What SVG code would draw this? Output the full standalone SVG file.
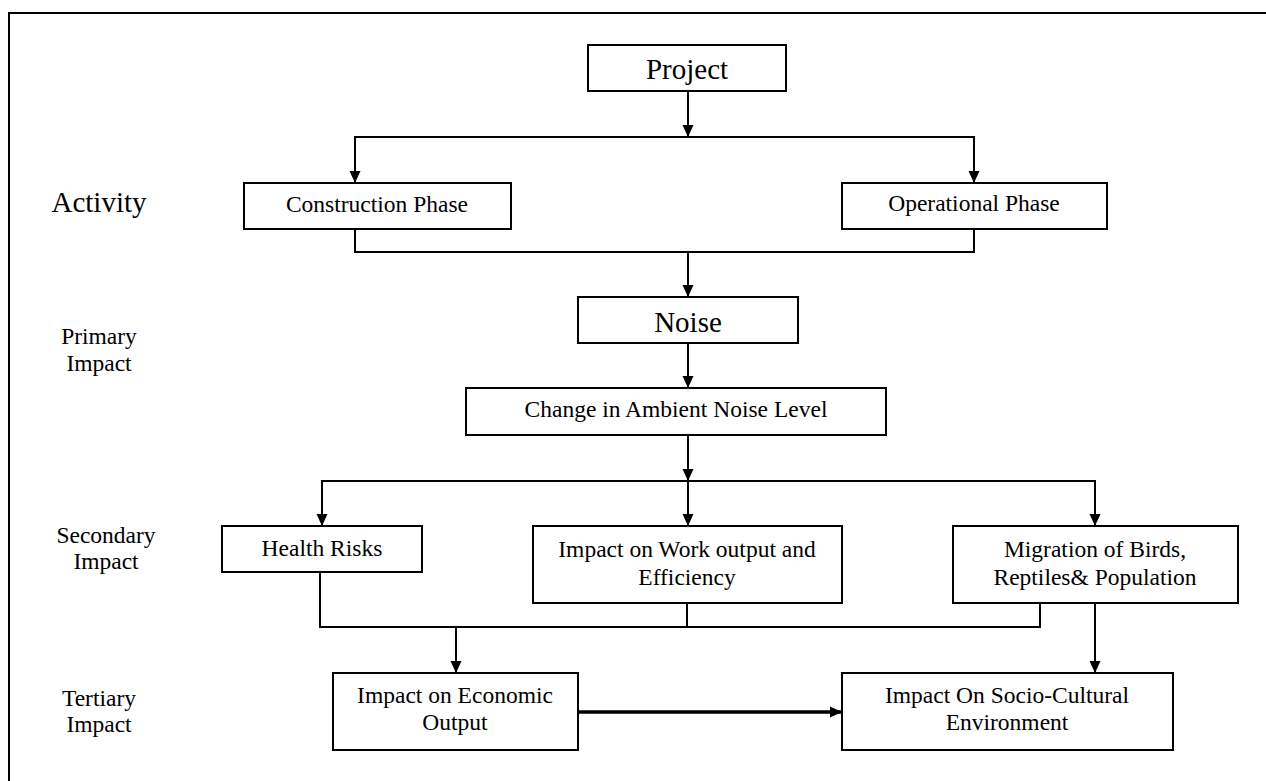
<svg xmlns="http://www.w3.org/2000/svg" width="1266" height="781" viewBox="0 0 1266 781">
<style>
.box{fill:#fff;stroke:#000;stroke-width:2}
.t{font-family:"Liberation Serif","Times New Roman",serif;fill:#000;text-anchor:middle}
.s24{font-size:23.5px}
.s29{font-size:29px}
.c{fill:none;stroke:#000;stroke-width:2}
.thick{stroke-width:3.5}
</style>
<defs>
<marker id="ah" markerUnits="userSpaceOnUse" markerWidth="12" markerHeight="14" viewBox="0 0 12 14" refX="12" refY="7" orient="auto">
<path d="M0,1.5 L12,7 L0,12.5 Z" fill="#000"/>
</marker>
</defs>
<rect x="9" y="13" width="1300" height="820" fill="none" stroke="#000" stroke-width="2"/>
<g id="labels">
<text class="t s29" x="99" y="212">Activity</text>
<text class="t s24" x="99" y="344">Primary</text>
<text class="t s24" x="99" y="371">Impact</text>
<text class="t s24" x="106" y="543">Secondary</text>
<text class="t s24" x="106" y="569">Impact</text>
<text class="t s24" x="99" y="706">Tertiary</text>
<text class="t s24" x="99" y="732">Impact</text>
</g>
<g id="connectors">
<path class="c" d="M688 91 V137" marker-end="url(#ah)"/>
<path class="c" d="M688 137 H355 V183" marker-end="url(#ah)"/>
<path class="c" d="M688 137 H974 V183" marker-end="url(#ah)"/>
<path class="c" d="M355 229 V252 H974 V229"/>
<path class="c" d="M688 252 V297" marker-end="url(#ah)"/>
<path class="c" d="M688 343 V388" marker-end="url(#ah)"/>
<path class="c" d="M688 435 V481" marker-end="url(#ah)"/>
<path class="c" d="M688 481 H322 V526" marker-end="url(#ah)"/>
<path class="c" d="M688 481 V526" marker-end="url(#ah)"/>
<path class="c" d="M688 481 H1095 V526" marker-end="url(#ah)"/>
<path class="c" d="M320 572 V627 H1040 V603"/>
<path class="c" d="M687 603 V627"/>
<path class="c" d="M456 627 V673" marker-end="url(#ah)"/>
<path class="c" d="M1095 603 V673" marker-end="url(#ah)"/>
<path class="c thick" d="M578 712 H842" marker-end="url(#ah)"/>
</g>
<g id="project">
<rect class="box" x="588" y="45" width="198" height="46"/>
<text class="t s29" x="687" y="79">Project</text>
</g>
<g id="construction">
<rect class="box" x="244" y="183" width="267" height="46"/>
<text class="t s24" x="377" y="212">Construction Phase</text>
</g>
<g id="operational">
<rect class="box" x="842" y="183" width="265" height="46"/>
<text class="t s24" x="974" y="211">Operational Phase</text>
</g>
<g id="noise">
<rect class="box" x="578" y="297" width="220" height="46"/>
<text class="t s29" x="688" y="332">Noise</text>
</g>
<g id="change">
<rect class="box" x="466" y="388" width="420" height="47"/>
<text class="t s24" x="676" y="417">Change in Ambient Noise Level</text>
</g>
<g id="health">
<rect class="box" x="222" y="526" width="200" height="46"/>
<text class="t s24" x="322" y="556">Health Risks</text>
</g>
<g id="work">
<rect class="box" x="533" y="526" width="309" height="77"/>
<text class="t s24" x="687" y="557">Impact on Work output and</text>
<text class="t s24" x="687" y="585">Efficiency</text>
</g>
<g id="migration">
<rect class="box" x="953" y="526" width="285" height="77"/>
<text class="t s24" x="1095" y="557">Migration of Birds,</text>
<text class="t s24" x="1095" y="585">Reptiles&amp; Population</text>
</g>
<g id="economic">
<rect class="box" x="333" y="673" width="245" height="77"/>
<text class="t s24" x="455" y="703">Impact on Economic</text>
<text class="t s24" x="455" y="730">Output</text>
</g>
<g id="socio">
<rect class="box" x="842" y="673" width="331" height="77"/>
<text class="t s24" x="1007" y="703">Impact On Socio-Cultural</text>
<text class="t s24" x="1007" y="730">Environment</text>
</g>
</svg>
